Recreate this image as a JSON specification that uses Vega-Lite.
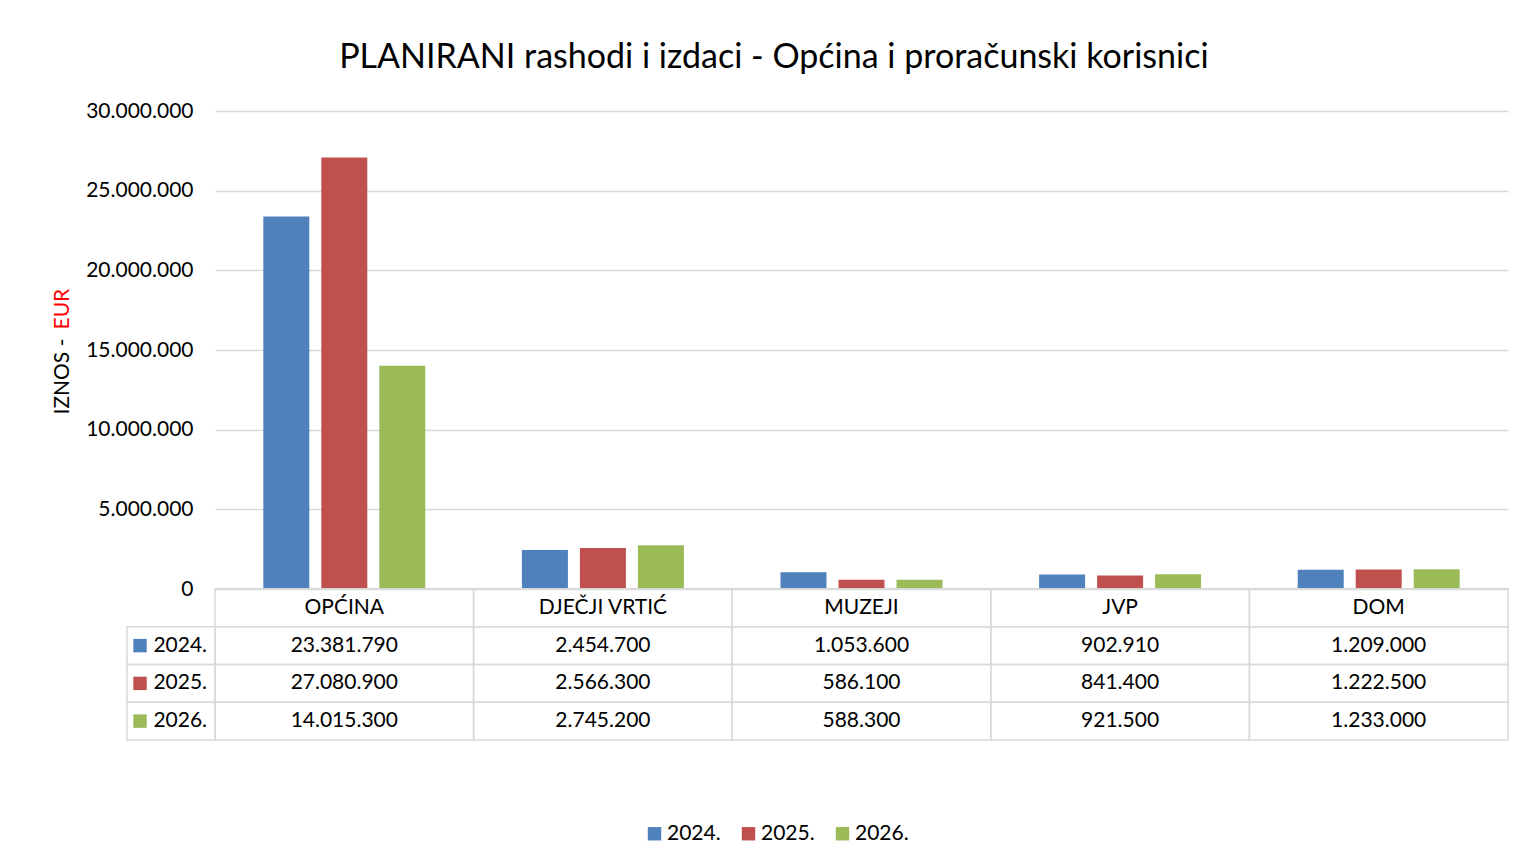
{
  "$schema": "https://vega.github.io/schema/vega-lite/v6.json",
  "background": "white",
  "padding": {"left": 51, "top": 41, "right": 7, "bottom": 5},
  "config": {
    "font": "Lato",
    "locale": {"number": {"decimal": ",", "thousands": ".", "grouping": [3], "currency": ["", " €"]}},
    "view": {"stroke": null}
  },
  "title": {
    "text": "PLANIRANI rashodi i izdaci - Općina i proračunski korisnici",
    "fontSize": 34,
    "fontWeight": "normal",
    "font": "Lato",
    "color": "black",
    "anchor": "middle",
    "offset": 25,
    "dx": -6
  },
  "datasets": {
    "podaci": [
      {"kategorija": "OPĆINA", "godina": "2024.", "iznos": 23381790},
      {"kategorija": "OPĆINA", "godina": "2025.", "iznos": 27080900},
      {"kategorija": "OPĆINA", "godina": "2026.", "iznos": 14015300},
      {"kategorija": "DJEČJI VRTIĆ", "godina": "2024.", "iznos": 2454700},
      {"kategorija": "DJEČJI VRTIĆ", "godina": "2025.", "iznos": 2566300},
      {"kategorija": "DJEČJI VRTIĆ", "godina": "2026.", "iznos": 2745200},
      {"kategorija": "MUZEJI", "godina": "2024.", "iznos": 1053600},
      {"kategorija": "MUZEJI", "godina": "2025.", "iznos": 586100},
      {"kategorija": "MUZEJI", "godina": "2026.", "iznos": 588300},
      {"kategorija": "JVP", "godina": "2024.", "iznos": 902910},
      {"kategorija": "JVP", "godina": "2025.", "iznos": 841400},
      {"kategorija": "JVP", "godina": "2026.", "iznos": 921500},
      {"kategorija": "DOM", "godina": "2024.", "iznos": 1209000},
      {"kategorija": "DOM", "godina": "2025.", "iznos": 1222500},
      {"kategorija": "DOM", "godina": "2026.", "iznos": 1233000}
    ],
    "kategorije": [
      {"kategorija": "OPĆINA"},
      {"kategorija": "DJEČJI VRTIĆ"},
      {"kategorija": "MUZEJI"},
      {"kategorija": "JVP"},
      {"kategorija": "DOM"}
    ],
    "godine": [
      {"godina": "2024."},
      {"godina": "2025."},
      {"godina": "2026."}
    ]
  },
  "bounds": "flush",
  "spacing": 0,
  "vconcat": [
    {
      "width": 1293,
      "height": 478,
      "data": {"name": "podaci"},
      "layer": [
        {
          "mark": {"type": "bar"},
          "encoding": {
            "x": {
              "field": "kategorija", "type": "nominal",
              "sort": ["OPĆINA", "DJEČJI VRTIĆ", "MUZEJI", "JVP", "DOM"],
              "scale": {"domain": ["OPĆINA", "DJEČJI VRTIĆ", "MUZEJI", "JVP", "DOM"], "paddingInner": 0, "paddingOuter": 0},
              "axis": null
            },
            "xOffset": {
              "field": "godina", "type": "nominal",
              "scale": {"domain": ["2024.", "2025.", "2026."], "paddingInner": 0.207, "paddingOuter": 0.833}
            },
            "y": {
              "field": "iznos", "type": "quantitative",
              "scale": {"domain": [0, 30000000], "nice": false},
              "axis": {
                "orient": "left",
                "values": [0, 5000000, 10000000, 15000000, 20000000, 25000000, 30000000],
                "format": ",d",
                "domain": false,
                "ticks": false,
                "grid": true,
                "gridColor": "#d9d9d9",
                "gridWidth": 1.3,
                "labelFontSize": 21,
                "labelColor": "black",
                "labelFont": "Lato",
                "labelPadding": 22,
                "title": "IZNOS - ",
                "titleFont": "Lato",
                "titleFontSize": 21,
                "titleFontWeight": "normal",
                "titleColor": "black",
                "titleAngle": -90,
                "titleAlign": "left",
                "titleBaseline": "alphabetic",
                "titleX": -147,
                "titleY": 303
              }
            },
            "color": {
              "field": "godina", "type": "nominal",
              "scale": {"domain": ["2024.", "2025.", "2026."], "range": ["#4f81bd", "#c0504d", "#9bbb59"]},
              "legend": {
                "orient": "none",
                "legendX": 429,
                "legendY": 712,
                "direction": "horizontal",
                "title": null,
                "symbolType": "square",
                "symbolSize": 180,
                "symbolStrokeWidth": 0,
                "labelFontSize": 21,
                "labelFont": "Lato",
                "labelColor": "black",
                "labelOffset": 2,
                "columnPadding": 17
              }
            }
          }
        },
        {
          "mark": {"type": "rule", "color": "#d9d9d9", "strokeWidth": 1.5},
          "encoding": {
            "y": {
              "datum": 0, "type": "quantitative",
              "axis": {
                "orient": "left",
                "labels": false,
                "ticks": false,
                "domain": false,
                "grid": false,
                "title": "EUR",
                "titleFont": "Lato",
                "titleFontSize": 21,
                "titleFontWeight": "normal",
                "titleColor": "#ff0000",
                "titleAngle": -90,
                "titleAlign": "left",
                "titleBaseline": "alphabetic",
                "titleX": -147,
                "titleY": 218
              }
            }
          }
        }
      ],
      "resolve": {"axis": {"y": "independent"}}
    },
    {
      "width": 1293,
      "height": 151,
      "layer": [
        {
          "data": {"name": "podaci"},
          "mark": {"type": "rect", "filled": false, "color": "#d9d9d9", "strokeWidth": 1.5},
          "encoding": {
            "x": {"field": "kategorija", "type": "nominal", "scale": {"domain": ["OPĆINA", "DJEČJI VRTIĆ", "MUZEJI", "JVP", "DOM"], "paddingInner": 0, "paddingOuter": 0}, "axis": null},
            "y": {"field": "godina", "type": "nominal", "scale": {"domain": ["naziv", "2024.", "2025.", "2026."], "paddingInner": 0, "paddingOuter": 0}, "axis": null}
          }
        },
        {
          "data": {"name": "kategorije"},
          "mark": {"type": "rect", "filled": false, "color": "#d9d9d9", "strokeWidth": 1.5},
          "encoding": {
            "x": {"field": "kategorija", "type": "nominal", "scale": {"domain": ["OPĆINA", "DJEČJI VRTIĆ", "MUZEJI", "JVP", "DOM"], "paddingInner": 0, "paddingOuter": 0}, "axis": null},
            "y": {"datum": "naziv", "type": "nominal", "scale": {"domain": ["naziv", "2024.", "2025.", "2026."], "paddingInner": 0, "paddingOuter": 0}, "axis": null}
          }
        },
        {
          "data": {"name": "kategorije"},
          "mark": {"type": "text", "fontSize": 21, "font": "Lato", "color": "black", "baseline": "middle"},
          "encoding": {
            "x": {"field": "kategorija", "type": "nominal", "scale": {"domain": ["OPĆINA", "DJEČJI VRTIĆ", "MUZEJI", "JVP", "DOM"], "paddingInner": 0, "paddingOuter": 0}, "axis": null},
            "y": {"datum": "naziv", "type": "nominal", "scale": {"domain": ["naziv", "2024.", "2025.", "2026."], "paddingInner": 0, "paddingOuter": 0}, "axis": null},
            "text": {"field": "kategorija"}
          }
        },
        {
          "data": {"name": "podaci"},
          "mark": {"type": "text", "fontSize": 21, "font": "Lato", "color": "black", "baseline": "middle"},
          "encoding": {
            "x": {"field": "kategorija", "type": "nominal", "scale": {"domain": ["OPĆINA", "DJEČJI VRTIĆ", "MUZEJI", "JVP", "DOM"], "paddingInner": 0, "paddingOuter": 0}, "axis": null},
            "y": {"field": "godina", "type": "nominal", "scale": {"domain": ["naziv", "2024.", "2025.", "2026."], "paddingInner": 0, "paddingOuter": 0}, "axis": null},
            "text": {"field": "iznos", "type": "quantitative", "format": ",d"}
          }
        },
        {
          "data": {"name": "godine"},
          "mark": {"type": "rect", "filled": false, "color": "#d9d9d9", "strokeWidth": 1.5},
          "encoding": {
            "x": {"datum": "legenda", "type": "nominal", "scale": {"domain": ["legenda"], "range": [-88, 0], "paddingInner": 0, "paddingOuter": 0}, "axis": null},
            "y": {"field": "godina", "type": "nominal", "scale": {"domain": ["naziv", "2024.", "2025.", "2026."], "paddingInner": 0, "paddingOuter": 0}, "axis": null}
          }
        },
        {
          "data": {"name": "godine"},
          "mark": {"type": "point", "shape": "square", "filled": true, "size": 180, "opacity": 1},
          "encoding": {
            "x": {"datum": "legenda", "type": "nominal", "scale": {"type": "point", "domain": ["legenda"], "range": [-88, 0], "padding": 0, "align": 0.148}, "axis": null},
            "y": {"field": "godina", "type": "nominal", "scale": {"domain": ["naziv", "2024.", "2025.", "2026."], "paddingInner": 0, "paddingOuter": 0}, "axis": null},
            "color": {"field": "godina", "type": "nominal", "scale": {"domain": ["2024.", "2025.", "2026."], "range": ["#4f81bd", "#c0504d", "#9bbb59"]}, "legend": null}
          }
        },
        {
          "data": {"name": "godine"},
          "mark": {"type": "text", "fontSize": 21, "font": "Lato", "color": "black", "align": "left", "baseline": "middle"},
          "encoding": {
            "x": {"datum": "legenda", "type": "nominal", "scale": {"type": "point", "domain": ["legenda"], "range": [-88, 0], "padding": 0, "align": 0.3}, "axis": null},
            "y": {"field": "godina", "type": "nominal", "scale": {"domain": ["naziv", "2024.", "2025.", "2026."], "paddingInner": 0, "paddingOuter": 0}, "axis": null},
            "text": {"field": "godina"}
          }
        }
      ],
      "resolve": {"scale": {"x": "independent"}}
    }
  ]
}
